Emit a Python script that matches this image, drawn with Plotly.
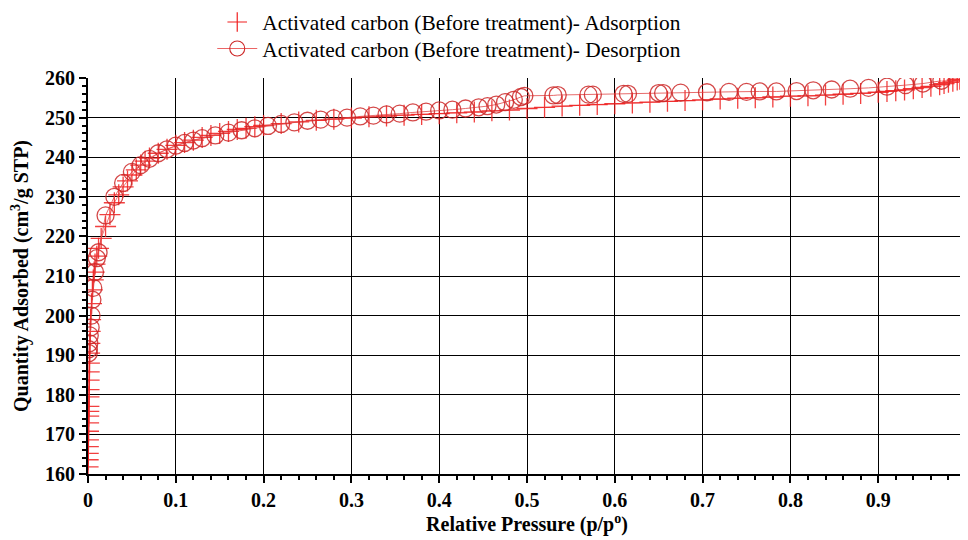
import plotly.graph_objects as go

ads_p = [0.0001,0.0002,0.0003,0.0004,0.0005,0.0006,0.0007,0.0008,0.0009,0.0010,0.0011,0.0012,0.0013,0.0014,0.0016,0.0018,
         0.0021,0.0025,0.003,0.004,0.005,0.006,0.007,0.008,0.010,0.012,0.015,0.020,0.025,0.030,0.035,0.040,0.045,0.050,
         0.055,0.060,0.065,0.070,0.080,0.090,0.100,0.110,0.120,0.130,0.140,0.150,0.160,0.170,0.180,0.190,0.200,
         0.22,0.24,0.26,0.28,0.30,0.32,0.34,0.36,0.38,0.40,0.42,0.44,0.46,0.48,0.50,0.52,0.54,0.56,0.58,0.60,
         0.62,0.64,0.66,0.68,0.70,0.72,0.74,0.76,0.78,0.80,0.82,0.84,0.86,0.88,0.90,0.91,0.92,0.93,0.94,0.95,
         0.96,0.97,0.975,0.98,0.985,0.99,0.993]
ads_q = [161.8,163.6,165.2,166.9,168.6,170.8,172.9,174.6,175.8,177.1,179.5,181.3,183.7,185.8,188.0,190.5,
         193.0,196.0,199.0,203.0,206.5,209.0,211.0,213.0,215.0,217.0,219.5,222.5,225.5,228.5,230.5,232.5,234.0,235.5,
         236.8,238.0,239.0,239.8,241.0,242.0,243.0,243.7,244.3,245.0,245.5,246.0,246.5,247.0,247.3,247.7,248.0,
         248.5,248.9,249.3,249.6,249.9,250.2,250.4,250.6,250.8,251.0,251.2,251.4,251.7,251.9,252.3,252.6,252.9,253.1,253.3,253.5,
         253.7,253.9,254.1,254.3,254.5,254.7,254.9,255.0,255.2,255.4,255.5,255.7,255.9,256.1,256.4,256.6,256.8,257.0,257.3,257.6,
         257.9,258.3,258.6,258.9,259.2,259.5,259.7]

des_p = [0.972,0.951,0.931,0.910,0.889,0.868,0.847,0.826,0.807,0.784,0.765,0.750,0.730,0.705,0.675,0.655,0.650,
         0.615,0.610,0.575,0.570,0.535,0.530,0.497,0.493,0.485,0.475,0.465,0.455,0.445,0.43,0.415,0.40,0.385,0.37,
         0.355,0.34,0.325,0.31,0.295,0.28,0.265,0.25,0.235,0.22,0.205,0.19,0.175,0.16,0.145,0.13,0.12,0.11,0.10,
         0.09,0.08,0.07,0.06,0.05,0.04,0.03,0.02,0.012,0.010,0.008,0.006,0.005,0.004,0.003,0.002,0.0015,0.001,0.0008]
des_q = [259.3,258.6,258.2,257.8,257.5,257.3,257.1,256.9,256.7,256.6,256.6,256.5,256.5,256.4,256.3,256.2,256.2,
         256.0,256.0,255.8,255.8,255.7,255.6,255.5,255.2,254.5,253.9,253.3,252.9,252.6,252.3,252.0,251.8,251.5,251.3,
         251.0,250.8,250.5,250.3,250.0,249.8,249.5,249.2,248.8,248.4,247.9,247.3,246.8,246.2,245.5,244.8,244.2,243.6,242.9,
         242.0,241.0,239.6,238.0,236.3,233.5,230.0,225.3,216.0,214.5,211.0,207.0,204.0,200.0,197.0,195.0,193.0,191.5,190.5]

x_ticks = [0,0.1,0.2,0.3,0.4,0.5,0.6,0.7,0.8,0.9,1]
x_labels = ["0","0.1","0.2","0.3","0.4","0.5","0.6","0.7","0.8","0.9","1"]
y_ticks = [160,170,180,190,200,210,220,230,240,250,260]

FONT = "Liberation Serif, Times New Roman, serif"
ADS_NAME = "Activated carbon (Before treatment)- Adsorption"
DES_NAME = "Activated carbon (Before treatment)- Desorption"

fig = go.Figure()
fig.add_trace(go.Scatter(
    x=ads_p, y=ads_q, mode="lines+markers", name=ADS_NAME,
    line=dict(color="rgba(235,60,60,0.7)", width=1),
    marker=dict(symbol="cross-thin", size=15, line=dict(color="rgba(240,30,30,0.85)", width=1.3)),
    showlegend=False))
fig.add_trace(go.Scatter(
    x=des_p, y=des_q, mode="lines+markers", name=DES_NAME,
    line=dict(color="rgba(225,70,70,0.8)", width=1),
    marker=dict(symbol="circle-open", size=17, color="rgba(205,40,40,0.85)", line=dict(width=1.3)),
    showlegend=False))
# legend entries
fig.add_trace(go.Scatter(
    x=[None], y=[None], mode="markers", name=ADS_NAME, legend="legend",
    marker=dict(symbol="cross-thin", size=14, line=dict(color="rgb(240,30,30)", width=1.2))))
fig.add_trace(go.Scatter(
    x=[None], y=[None], mode="lines+markers", name=DES_NAME, legend="legend2",
    line=dict(color="rgb(230,60,60)", width=0.8),
    marker=dict(symbol="circle-open", size=15, color="rgb(205,40,40)", line=dict(width=1.1))))

leg_common = dict(xanchor="left", yanchor="top",
                  font=dict(family=FONT, size=21.4, color="black"),
                  bgcolor="rgba(0,0,0,0)", itemsizing="trace", itemwidth=40)

# page has an 8px body margin, so the figure is 960x532 and offset by 8px
fig.update_layout(
    width=960, height=532,
    margin=dict(l=80, r=2, t=70, b=66, autoexpand=False),
    paper_bgcolor="white", plot_bgcolor="white",
    font=dict(family=FONT, color="black"),
    legend=dict(x=0.1415, y=1.193, **leg_common),
    legend2=dict(x=0.1415, y=1.126, **leg_common),
    showlegend=True,
)
fig.update_xaxes(
    range=[0, 1], tickvals=x_ticks, ticktext=x_labels, ticklabeloverflow="allow",
    showgrid=True, gridcolor="black", gridwidth=1,
    showline=True, linecolor="black", linewidth=2, mirror=False,
    ticks="outside", ticklen=7, tickcolor="black", tickwidth=1.5,
    minor=dict(dtick=0.02, ticks="outside", ticklen=4, tickcolor="black", showgrid=False),
    tickfont=dict(family=FONT, size=20, color="black", weight="bold"),
    title=dict(text="Relative Pressure (p/p<sup>o</sup>)", standoff=6,
               font=dict(family=FONT, size=20, color="black", weight="bold")),
    zeroline=False,
)
fig.update_yaxes(
    range=[160, 260], tickvals=y_ticks,
    showgrid=True, gridcolor="black", gridwidth=1,
    showline=True, linecolor="black", linewidth=2,
    ticks="outside", ticklen=7, tickcolor="black", tickwidth=1.5,
    minor=dict(dtick=2, ticks="outside", ticklen=4, tickcolor="black", showgrid=False),
    tickfont=dict(family=FONT, size=20, color="black", weight="bold"),
    title=dict(text="Quantity Adsorbed (cm<sup>3</sup>/g STP)", standoff=20,
               font=dict(family=FONT, size=20, color="black", weight="bold")),
    zeroline=False,
)
fig.write_html("out.html")
